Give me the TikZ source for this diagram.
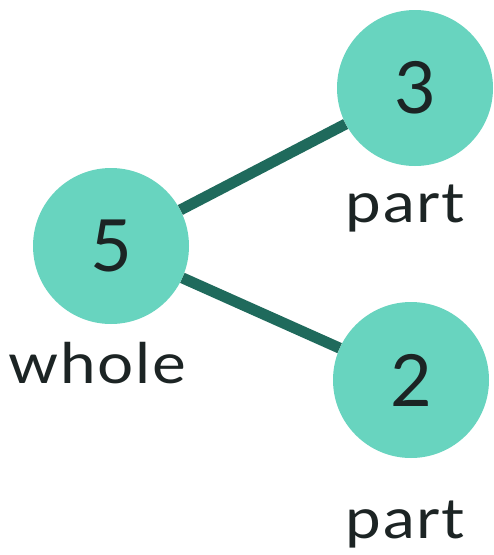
\documentclass[tikz,border=0pt]{standalone}
\usepackage{fontspec}
\setmainfont{Lato}
\newfontfamily\labfont[FakeStretch=1.14,LetterSpace=3]{Lato}
\definecolor{bubble}{HTML}{68D4BF}
\definecolor{stem}{HTML}{1F6A5C}
\definecolor{ink}{HTML}{1C2424}
\begin{document}
\begin{tikzpicture}[x=1pt,y=-1pt,
  bub/.style={circle,fill=bubble,minimum size=156pt,inner sep=0pt,text=ink,font=\fontsize{72}{72}\selectfont},
  lab/.style={text=ink,font=\labfont\fontsize{56}{56}\selectfont,inner sep=0pt,anchor=base},
  stemline/.style={draw=stem,line width=11pt}]
\useasboundingbox[fill=white] (0,0) rectangle (494,555);
\node[bub] (w) at (111,246) {5};
\node[bub] (p1) at (415,88) {3};
\node[bub] (p2) at (411,380) {2};
\draw[stemline] (w) -- (p1);
\draw[stemline] (w) -- (p2);
\node[lab] (lw) at (97,383) {whole};
\node[lab] (l1) at (405,222) {part};
\node[lab] (l2) at (405,538) {part};
\end{tikzpicture}
\end{document}
